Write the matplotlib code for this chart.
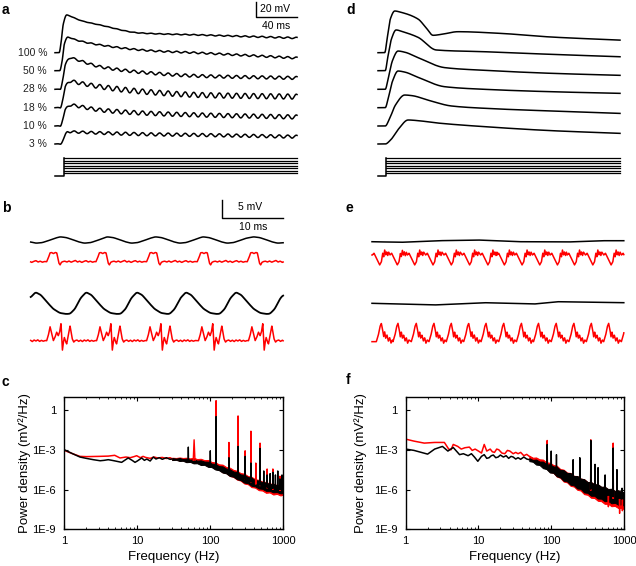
import numpy as np
import matplotlib
matplotlib.use("Agg")
import matplotlib.pyplot as plt

plt.rcParams['font.family'] = ['Liberation Sans', 'DejaVu Sans']

###########################################################################
# Data read off the reference
# panel a / d : responses to light steps (t in ms, V in mV above baseline)
pct_labels = ["100 %", "50 %", "28 %", "18 %", "10 %", "3 %"]

a_knot_t = [
    [0, 4, 6, 8, 11.4, 16, 25, 44, 83, 142, 236],
    [0, 4.5, 7, 9, 12.7, 18, 44, 90, 142, 236],
    [0, 5, 7.5, 10, 14.6, 20, 44, 90, 142, 236],
    [0, 5, 7.5, 10, 14.6, 20, 44, 90, 142, 236],
    [0, 5, 7.5, 10, 14.6, 20, 44, 90, 142, 236],
    [0, 5, 8, 10, 12.7, 20, 44, 90, 142, 236],
]
a_knot_v = [
    [0, 0, 15, 38, 50.3, 48, 43, 36.9, 26.3, 23.6, 19.6],
    [0, 0, 14, 35, 44.9, 42, 34.3, 27, 23.6, 16.9],
    [0, 0, 13, 32, 42.1, 40, 30.1, 22, 17.7, 15.1],
    [0, 0, 11, 27, 35.6, 34, 28, 21, 16.9, 14.7],
    [0, 0, 9, 21, 28, 27, 21.3, 17, 14.7, 12],
    [0, 0, 6, 12, 16.4, 16, 14.7, 13, 12, 9.7],
]
# amplitude of the ~120 Hz ripple riding on each trace
a_amp_t = [
    [0, 20, 80, 160, 236],
    [0, 15, 60, 236],
    [0, 15, 60, 236],
    [0, 15, 60, 236],
    [0, 15, 60, 236],
    [0, 12, 60, 236],
]
a_amp_v = [
    [0, 0.2, 0.4, 0.7, 1.0],
    [0, 0.6, 0.9, 1.3],
    [0, 1.2, 1.8, 2.0],
    [0, 2.0, 3.3, 3.3],
    [0, 1.8, 2.7, 2.7],
    [0, 1.3, 2.0, 2.0],
]
ripple_hz = 120.0

d_knot_t = [
    [0, 6.5, 9, 12, 16.3, 22, 39, 47, 53.7, 62, 78, 119, 169, 234],
    [0, 7, 9.5, 13, 17.6, 24, 39, 56.9, 104, 169, 234],
    [0, 7, 10, 14, 19.5, 26, 39, 65, 104, 169, 234],
    [0, 7, 10, 14, 19.5, 26, 39, 65, 104, 169, 234],
    [0, 7, 11, 17, 26, 33, 50, 71.5, 104, 169, 234],
    [0, 7, 12, 20, 29.3, 40, 55, 104, 169, 234],
]
d_knot_v = [
    [0, 0, 20, 45, 55.6, 54, 44.9, 33, 23.2, 24.5, 28, 25.8, 20.9, 16.9],
    [0, 0, 18, 42, 54.3, 52, 44.5, 27.6, 25.3, 21.8, 18.7],
    [0, 0, 15, 38, 51, 49.5, 42.2, 28.9, 25.3, 21.3, 18.7],
    [0, 0, 13, 35, 48.9, 47.5, 40.5, 28, 24.5, 21.3, 19.2],
    [0, 0, 9, 28, 41.3, 40.5, 34, 26.7, 23.6, 20, 16.9],
    [0, 0, 5, 20, 32, 31, 28.4, 23.1, 17.8, 14.3],
]

# panel b : one cycle of each waveform, and the times where the cycles sit
b_blk1_tt = [0, 1.0, 2.0, 3.0, 3.97, 5.0, 6.0, 7.0]
b_blk1_vv = [0.9, 0.7, 0.15, -0.5, -0.9, -0.75, -0.2, 0.45]
b_blk1_at = [-3.13, 4.8, 12.5, 20.4, 28.2, 36.5, 44.4]          # peaks

b_red1_tt = [0.0, 0.3, 0.55, 0.8, 1.1, 1.4, 1.65, 1.85, 2.0, 2.2, 2.4, 2.6,
             2.95, 3.3, 3.65, 4.0, 4.35, 4.7, 5.05, 5.4, 5.75, 6.1, 6.45,
             6.8, 7.15, 7.5, 7.85]
b_red1_vv = [0.0, 1.2, 2.5, 2.6, 2.3, 2.6, 2.5, 1.0, -0.4, -0.9, -0.2, 0.0,
             0.15, -0.1, 0.2, -0.15, 0.1, 0.35, -0.1, 0.15, -0.2, 0.1, 0.3,
             -0.1, 0.15, -0.15, 0.05]
b_red1_at = [-5.6, 2.62, 10.7, 19.0, 27.3, 35.5]                  # bump onsets

b_blk2_tt = [0, 0.8, 1.7, 2.63, 3.5, 4.5, 5.5, 6.6, 7.6]
b_blk2_vv = [-3.05, -1.7, 1.3, 3.05, 2.3, 0.3, -1.6, -2.8, -3.1]
b_blk2_at = [-1.85, 6.44, 14.75, 22.8, 31.0, 39.2, 47.4]         # troughs

b_red2_tt = [0.0, 0.27, 0.55, 0.82, 1.09, 1.37, 1.64, 1.91, 2.13, 2.35,
             2.57, 2.73, 2.9, 3.11, 3.28, 3.55, 3.83, 4.04, 4.2, 4.43,
             4.64, 4.95, 5.25, 5.55, 5.85, 6.15, 6.45, 6.75, 7.05, 7.35,
             7.65, 7.95]
b_red2_vv = [0.0, 1.5, 4.0, 2.0, 0.0, 1.0, 2.4, 1.4, 2.5, 4.9,
             -2.8, -0.5, 0.9, -0.3, -0.9, 1.5, 4.2, 2.0, 0.5, -0.4,
             0.0, 0.2, -0.2, 0.15, -0.25, 0.2, -0.1, 0.25, -0.2, 0.1,
             -0.15, 0.05]
b_red2_at = [-5.6, 2.62, 10.8, 19.0, 27.5, 35.7]                  # burst onsets

# panel e
e_blk1_t = [0, 4.75, 10.8, 17.3, 23.9, 32.1, 37.6, 41.3]
e_blk1_v = [0, -0.17, 0.28, 0.48, 0, -0.08, 0.28, 0.28]

e_red1_tt = [0, 0.27, 0.55, 0.82, 1.2, 1.48, 1.7, 1.86, 2.02, 2.19, 2.35, 2.51, 2.68]
e_red1_vv = [0, 0.5, -0.5, -1.4, -2.8, -1.9, 0.5, -0.5, 1.4, 0.0, 0.9, -0.2, 0.8]
e_red1_dips = [1.26, 4.15, 7.0, 10.0, 13.0, 16.0, 19.0, 21.7, 24.6, 27.5,
               30.4, 33.2, 36.2, 39.2, 42.1]

e_blk2_t = [0, 10.2, 18.4, 26.6, 30.4, 41.3]
e_blk2_v = [0, -0.47, 0.17, -0.2, 0.45, 0.17]

e_red2_tt = [0, 0.33, 0.6, 0.82, 1.04, 1.2, 1.37, 1.53, 1.75, 1.97, 2.19, 2.4, 2.62]
e_red2_vv = [-0.47, 1.4, 3.8, 4.7, 2.8, 0.9, 2.3, 0.5, 1.4, -0.3, 0.65, -0.9, 0.0]
e_red2_peaks = [1.53, 4.26, 7.26, 10.16, 13.0, 15.85, 18.7, 21.6, 24.5, 27.3,
                30.2, 33.1, 35.96, 38.8, 41.7]

# panel c : power spectra, log10(mV^2/Hz)
c_blk_lo_f = [1, 1.3, 1.64, 2, 2.5, 3.1, 3.5, 4, 4.5, 5, 6.1, 6.5, 7.5, 8.5,
              9.3, 10, 11.5, 12.5, 13.5, 15, 16.6, 18, 20, 22, 25, 28, 30]
c_blk_lo_p = [-3.0, -3.3, -3.55, -3.65, -3.75, -3.83, -3.8, -3.75, -3.8, -3.85,
              -3.95, -3.85, -3.62, -3.8, -3.95, -3.85, -3.62, -3.8, -3.7, -3.85,
              -3.55, -3.7, -3.6, -3.72, -3.6, -3.72, -3.7]
c_red_lo_f = [1, 1.3, 1.64, 2, 3, 4, 4.9, 5.8, 7, 8, 9, 9.8, 11, 12, 13, 15,
              17, 19, 22, 25, 28, 30]
c_red_lo_p = [-3.05, -3.3, -3.5, -3.52, -3.5, -3.48, -3.42, -3.62, -3.55, -3.6,
              -3.52, -3.45, -3.6, -3.5, -3.58, -3.65, -3.55, -3.62, -3.58, -3.66,
              -3.6, -3.68]
c_band_f = [30, 34, 38, 42, 47, 53, 59, 66, 74, 83, 93, 104, 117, 131, 147, 165,
            185, 207, 232, 260, 292, 327, 367, 411, 461, 517, 580, 650, 729,
            817, 916, 1000]
c_blk_hi = [-3.62, -3.67, -3.62, -3.70, -3.67, -3.75, -3.72, -3.82, -3.80, -3.89,
            -3.90, -4.04, -4.07, -4.23, -4.25, -4.42, -4.47, -4.64, -4.68, -4.86,
            -4.89, -5.06, -5.11, -5.29, -5.32, -5.46, -5.47, -5.60, -5.58, -5.70,
            -5.67, -5.74]
c_blk_lw = [-3.78, -3.76, -3.85, -3.83, -3.94, -3.92, -4.03, -4.02, -4.15, -4.14,
            -4.29, -4.31, -4.49, -4.54, -4.72, -4.78, -4.98, -5.03, -5.22, -5.29,
            -5.48, -5.52, -5.72, -5.76, -5.92, -5.95, -6.10, -6.10, -6.21, -6.19,
            -6.29, -6.26]
c_red_hi = [-3.60, -3.62, -3.58, -3.62, -3.60, -3.65, -3.60, -3.70, -3.68, -3.78,
            -3.77, -3.92, -3.95, -4.10, -4.12, -4.30, -4.35, -4.52, -4.58, -4.76,
            -4.80, -4.98, -5.04, -5.22, -5.27, -5.40, -5.43, -5.55, -5.55, -5.66,
            -5.64, -5.70]
c_red_lw = [-3.76, -3.74, -3.82, -3.80, -3.90, -3.88, -3.98, -3.97, -4.10, -4.08,
            -4.24, -4.26, -4.45, -4.50, -4.70, -4.76, -4.98, -5.05, -5.25, -5.33,
            -5.55, -5.60, -5.82, -5.86, -6.05, -6.08, -6.25, -6.22, -6.38, -6.33,
            -6.45, -6.38]
c_red_spk_f = [60, 120, 180, 240, 300, 360, 420, 480, 600, 720, 900]
c_red_spk_p = [-2.25, 0.7, -2.45, -0.45, -3.08, -1.6, -4.0, -2.5, -4.45, -4.45, -5.0]
c_blk_spk_f = [50, 100, 120, 180, 240, 300, 360, 480, 540, 600, 660, 720, 780,
               840, 900, 960]
c_blk_spk_p = [-2.8, -3.08, -0.5, -3.6, -2.75, -3.5, -4.0, -2.9, -4.6, -4.9,
               -4.8, -4.7, -4.9, -4.6, -5.2, -4.9]

# panel f
f_blk_lo_f = [1, 1.3, 2, 2.5, 3.2, 3.8, 4.5, 5.5, 6.2, 7.2, 8, 8.8, 9.8, 11,
              12, 13, 14, 15, 16, 17.3, 18.6, 20, 22, 24, 26, 28, 30, 32.5, 35,
              38, 42, 46, 50]
f_blk_lo_p = [-2.95, -3.05, -3.33, -2.95, -2.75, -3.1, -2.83, -3.37, -3.3, -3.45,
              -3.3, -3.55, -3.87, -3.5, -3.37, -3.65, -3.6, -3.45, -3.4, -3.6,
              -3.55, -3.4, -3.55, -3.45, -3.65, -3.5, -3.55, -3.7, -3.6, -3.72,
              -3.55, -3.7, -3.75]
f_red_lo_f = [1, 1.3, 1.8, 2.5, 3.4, 3.9, 4.2, 4.5, 5.2, 5.8, 6.5, 7.5, 8.2, 9,
              10, 11, 12, 13, 14.5, 15.5, 16.6, 17.8, 19, 21, 23, 25, 27, 30,
              32.5, 35, 38, 42, 46, 50]
f_red_lo_p = [-2.2, -2.35, -2.5, -2.45, -2.45, -2.95, -3.0, -2.6, -2.75, -2.95,
              -2.85, -2.8, -3.05, -2.95, -3.1, -3.25, -2.6, -3.1, -2.95, -3.15,
              -3.2, -2.95, -3.0, -3.25, -3.3, -3.05, -3.1, -3.3, -3.2, -3.3,
              -3.2, -3.45, -3.35, -3.5]
f_band_f = [50, 56, 62, 69, 77, 86, 96, 107, 119, 133, 148, 165, 184, 205, 228,
            254, 283, 316, 352, 392, 437, 487, 542, 604, 673, 750, 835, 930, 1000]
f_blk_hi = [-3.64, -3.77, -3.74, -3.89, -3.89, -4.10, -4.10, -4.26, -4.28, -4.52,
            -4.54, -4.75, -4.76, -4.98, -4.98, -5.17, -5.22, -5.43, -5.43, -5.61,
            -5.60, -5.79, -5.78, -5.96, -5.94, -6.10, -6.05, -6.21, -6.17]
f_blk_lw = [-3.86, -3.91, -4.12, -4.15, -4.39, -4.46, -4.72, -4.74, -5.00, -5.08,
            -5.34, -5.39, -5.64, -5.68, -5.92, -5.95, -6.22, -6.25, -6.47, -6.47,
            -6.68, -6.69, -6.88, -6.86, -7.04, -7.00, -7.15, -7.11, -7.23]
f_red_hi = [-3.45, -3.60, -3.58, -3.72, -3.74, -3.95, -3.98, -4.15, -4.20, -4.45,
            -4.50, -4.72, -4.75, -4.97, -4.98, -5.18, -5.22, -5.44, -5.44, -5.63,
            -5.62, -5.81, -5.80, -5.98, -5.97, -6.12, -6.08, -6.23, -6.20]
f_red_lw = [-3.70, -3.80, -4.00, -4.05, -4.30, -4.40, -4.68, -4.74, -5.02, -5.12,
            -5.40, -5.46, -5.72, -5.78, -6.02, -6.08, -6.35, -6.40, -6.62, -6.64,
            -6.85, -6.88, -7.08, -7.08, -7.26, -7.24, -7.40, -7.38, -7.50]
f_red_spk_f = [88, 350, 710, 610, 870, 950]
f_red_spk_p = [-2.3, -2.25, -2.5, -7.3, -7.8, -7.6]
f_blk_spk_f = [88, 100, 118, 200, 247, 350, 400, 440, 550, 710, 800, 940]
f_blk_spk_p = [-2.6, -3.1, -3.37, -3.75, -3.6, -2.3, -4.1, -4.35, -4.9, -2.87,
               -4.5, -5.9]

###########################################################################
# Layout (pixels of the 636x566 picture)
W, H = 636, 566
RED = "#ff0000"
LW = 1.1

def box(l, t, r, b):
    return [l / W, 1 - b / H, (r - l) / W, (b - t) / H]

def smooth(v, n):
    if n < 2:
        return v
    pad = np.concatenate([np.full(n, v[0]), v, np.full(n, v[-1])])
    return np.convolve(pad, np.ones(n) / n, mode="same")[n:-n]

def pchip(x, y, xi):
    # shape preserving cubic through the read-off knots
    x, y = np.asarray(x, float), np.asarray(y, float)
    h = np.diff(x)
    d = np.diff(y) / h
    m = np.zeros_like(y)
    for k in range(1, len(x) - 1):
        if d[k - 1] * d[k] > 0:
            w1, w2 = 2 * h[k] + h[k - 1], h[k] + 2 * h[k - 1]
            m[k] = (w1 + w2) / (w1 / d[k - 1] + w2 / d[k])
    m[-1] = d[-1]
    i = np.clip(np.searchsorted(x, xi) - 1, 0, len(h) - 1)
    s = (xi - x[i]) / h[i]
    return ((2 * s**3 - 3 * s**2 + 1) * y[i] + (s**3 - 2 * s**2 + s) * h[i] * m[i]
            + (-2 * s**3 + 3 * s**2) * y[i + 1] + (s**3 - s**2) * h[i] * m[i + 1])

def tile(at, tt, vv, t):
    ts, vs = [], []
    for i, s in enumerate(at):
        nxt = at[i + 1] if i + 1 < len(at) else np.inf
        for a, b in zip(tt, vv):
            if s + a < nxt:
                ts.append(s + a)
                vs.append(b)
    return np.interp(t, ts, vs)

fig = plt.figure(figsize=(W / 100, H / 100), dpi=100)

# ---------------- panels a and d ----------------
ms_px, mv_px = 1.025, 0.75          # pixels per ms / per mV
base_px = [52.7, 70.7, 89.3, 107.7, 126, 144]
stim_px = [158, 160.5, 163, 165.5, 168, 170.5, 173]

def step_panel(left, t0_px, step_px, knot_t, knot_v, amp_t=None, amp_v=None):
    ax = fig.add_axes(box(left, 0, left + 265, 185))
    ax.set_xlim((left - t0_px) / ms_px, (left + 265 - t0_px) / ms_px)
    ax.set_ylim(0, 185 / mv_px)
    ax.axis("off")
    t = np.arange(0, 236.2, 0.1)
    for i in range(6):
        v = smooth(pchip(knot_t[i], knot_v[i], t), 6)
        if amp_t is not None:
            v = v + np.interp(t, amp_t[i], amp_v[i]) * np.sin(2 * np.pi * ripple_hz * t / 1000)
        ax.plot(t, v + (185 - base_px[i]) / mv_px, color="k", lw=LW)
    ts = (step_px - t0_px) / ms_px
    y0 = (185 - 176) / mv_px
    ax.plot([0, ts, ts], [y0, y0, (185 - stim_px[0]) / mv_px], color="k", lw=LW)
    for s in stim_px:
        ax.plot([ts, 236], [(185 - s) / mv_px] * 2, color="k", lw=0.9)
    return ax

ax_a = step_panel(40, 55, 64, a_knot_t, a_knot_v, a_amp_t, a_amp_v)
for lab, b in zip(pct_labels, base_px):
    ax_a.text(-7.8, (185 - b) / mv_px, lab, ha="right", va="center", fontsize=7.5,
              color="#222222")
xs, ys = (256 - 55) / ms_px, (185 - 17) / mv_px
ax_a.plot([xs, xs, xs + 40], [ys + 20, ys, ys], color="k", lw=1.0)
ax_a.text(xs + 19, ys + 10.5, "20 mV", ha="center", va="center", fontsize=7.5)
ax_a.text(xs + 19.5, ys - 12, "40 ms", ha="center", va="center", fontsize=7.5)

ax_d = step_panel(365, 378, 386, d_knot_t, d_knot_v)

# ---------------- panels b and e ----------------
msb, mvb = 6.1, 3.54

def osc_axes(left, t0_px):
    ax = fig.add_axes(box(left, 195, left + 270, 355))
    ax.set_xlim((left - t0_px) / msb, (left + 270 - t0_px) / msb)
    ax.set_ylim(0, 160 / mvb)
    ax.axis("off")
    return ax

ax_b = osc_axes(20, 30.7)
tb = np.arange(0, 41.4, 0.02)
ax_b.plot(tb, smooth(tile(b_blk1_at, b_blk1_tt, b_blk1_vv, tb), 25) + (355 - 240) / mvb,
          color="k", lw=LW)
ax_b.plot(tb, tile(b_red1_at, b_red1_tt, b_red1_vv, tb) + (355 - 261.7) / mvb,
          color=RED, lw=LW)
ax_b.plot(tb, smooth(tile(b_blk2_at, b_blk2_tt, b_blk2_vv, tb), 25) + (355 - 303) / mvb,
          color="k", lw=LW + 0.2)
ax_b.plot(tb, tile(b_red2_at, b_red2_tt, b_red2_vv, tb) + (355 - 340.7) / mvb,
          color=RED, lw=LW)
xs, ys = (221.7 - 30.7) / msb, (355 - 217.7) / mvb
ax_b.plot([xs, xs, xs + 10], [ys + 5, ys, ys], color="k", lw=1.0)
ax_b.text(xs + 4.7, ys + 2.9, "5 mV", ha="center", va="center", fontsize=7.5)
ax_b.text(xs + 5.2, ys - 2.7, "10 ms", ha="center", va="center", fontsize=7.5)

ax_e = osc_axes(360, 372)
te = np.arange(0, 41.3, 0.02)
ax_e.plot(te, smooth(np.interp(te, e_blk1_t, e_blk1_v), 25) + (355 - 241.7) / mvb,
          color="k", lw=LW)
ax_e.plot(te, tile([d - 1.2 for d in e_red1_dips], e_red1_tt, e_red1_vv, te)
          + (355 - 255) / mvb, color=RED, lw=LW)
ax_e.plot(te, smooth(np.interp(te, e_blk2_t, e_blk2_v), 25) + (355 - 303.3) / mvb,
          color="k", lw=LW)
ax_e.plot(te, tile([p - 0.82 for p in e_red2_peaks], e_red2_tt, e_red2_vv, te)
          + (355 - 340) / mvb, color=RED, lw=LW)

# ---------------- panels c and f ----------------
def spectrum(ax, lo_f, lo_p, bf, bhi, blw, sf, sp, color):
    bhi, blw = np.array(bhi), np.array(blw)
    ax.plot(lo_f, 10 ** np.array(lo_p), color=color, lw=LW)
    ax.fill_between(bf, 10 ** blw, 10 ** bhi, color=color, lw=0.7, edgecolor=color)
    base = np.interp(np.log10(sf), np.log10(bf), (bhi + blw) / 2)
    for f, b, p in zip(sf, base, sp):
        w = 10 ** 0.012 if f == 60 and color == RED else 10 ** 0.003
        ax.plot([f / w, f, f * w], [10 ** b, 10 ** p, 10 ** b], color=color, lw=1.0)

def spec_axes(l, r, ylab_x):
    ax = fig.add_axes(box(l, 396.7, r, 529.3))
    ax.set_xscale("log")
    ax.set_yscale("log")
    ax.set_xlim(1, 1000)
    ax.set_ylim(1e-9, 10)
    ax.set_xticks([1, 10, 100, 1000], ["1", "10", "100", "1000"])
    ax.set_yticks([1e-9, 1e-6, 1e-3, 1], ["1E-9", "1E-6", "1E-3", "1"])
    ax.yaxis.set_minor_locator(matplotlib.ticker.NullLocator())
    ax.tick_params(which="both", direction="in", top=True, right=True,
                   labelsize=8, colors="k")
    ax.tick_params(which="major", length=3, width=0.8, pad=5)
    ax.tick_params(which="minor", length=1.6, width=0.6)
    ax.tick_params(axis="y", pad=6)
    for s in ax.spines.values():
        s.set_linewidth(1.0)
    ax.set_xlabel("Frequency (Hz)", fontsize=9.5)
    ax.set_ylabel("Power density (mV²/Hz)", fontsize=9.5)
    ax.xaxis.set_label_coords(0.5, -0.165)
    ax.yaxis.set_label_coords(ylab_x, 0.5)
    return ax

ax_c = spec_axes(64.3, 283.3, -0.15)
spectrum(ax_c, c_red_lo_f, c_red_lo_p, c_band_f, c_red_hi, c_red_lw,
         c_red_spk_f, c_red_spk_p, RED)
spectrum(ax_c, c_blk_lo_f, c_blk_lo_p, c_band_f, c_blk_hi, c_blk_lw,
         c_blk_spk_f, c_blk_spk_p, "k")

ax_f = spec_axes(405.7, 624, -0.175)
spectrum(ax_f, f_red_lo_f, f_red_lo_p, f_band_f, f_red_hi, f_red_lw,
         f_red_spk_f, f_red_spk_p, RED)
spectrum(ax_f, f_blk_lo_f, f_blk_lo_p, f_band_f, f_blk_hi, f_blk_lw,
         f_blk_spk_f, f_blk_spk_p, "k")

# panel letters
for lab, x, y in [("a", 2, 10), ("b", 2, 208), ("c", 2, 382),
                  ("d", 346, 10), ("e", 346, 208), ("f", 346, 380)]:
    fig.text(x / W, 1 - y / H, lab, fontsize=10, fontweight="bold",
             ha="left", va="center")

fig.savefig("out.png", dpi=100)
